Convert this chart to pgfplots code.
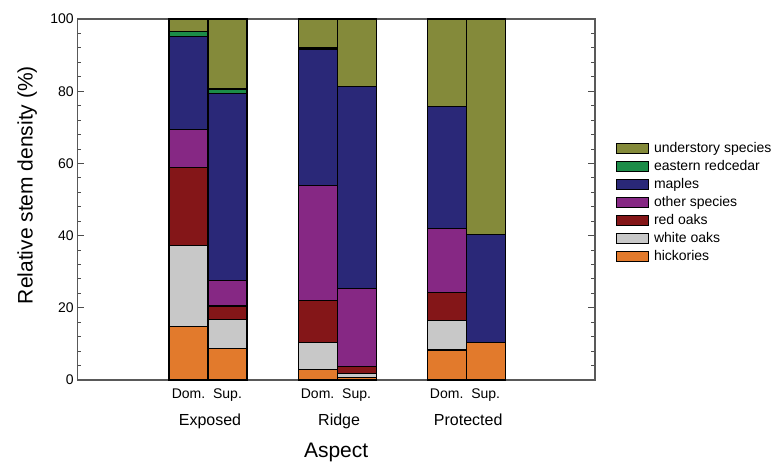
\documentclass[border=0pt]{standalone}
\usepackage{fontspec}
\setmainfont{Liberation Sans}
\usepackage{pgfplots}
\pgfplotsset{compat=1.18}
\definecolor{cUnder}{RGB}{132,138,58}
\definecolor{cCedar}{RGB}{28,140,72}
\definecolor{cMaple}{RGB}{42,40,120}
\definecolor{cOther}{RGB}{134,40,132}
\definecolor{cRed}{RGB}{132,22,24}
\definecolor{cWhite}{RGB}{200,200,200}
\definecolor{cHick}{RGB}{226,122,44}
\pgfplotsset{mylegend/.style={legend image code/.code={\draw[##1, line width=0.8pt] (0pt,-5pt) rectangle (32pt,5pt);}}}
\begin{document}
\begin{tikzpicture}
\begin{axis}[
  scale only axis, width=517.7pt, height=361pt,
  xmin=77.3, xmax=595, ymin=0, ymax=100,
  ybar stacked, bar width=39,
  axis line style={draw=black!65, line width=1.2pt},
  ytick={0,20,...,100}, minor y tick num=4,
  tick align=inside, ytick pos=both,
  major tick length=7pt, minor tick length=4pt,
  y tick style={black!70, line width=0.9pt},
  xtick={188.5,227.5,317.6,356.6,446.7,485.7},
  xticklabels={Dom.,Sup.,Dom.,Sup.,Dom.,Sup.},
  x tick style={draw=none},
  x tick label style={yshift=-5pt},
  extra x ticks={208,337.1,466.2},
  extra x tick labels={Exposed,Ridge,Protected},
  extra x tick style={tick label style={font=\fontsize{16}{19}\selectfont, yshift=-25pt, xshift=2pt}, major tick length=0pt},
  tick label style={font=\fontsize{14}{16}\selectfont},
  /pgf/number format/assume math mode=true,
  ylabel={Relative stem density (\%)},
  ylabel style={font=\fontsize{21}{24}\selectfont, at={(axis description cs:-0.097,0.54)}, anchor=center},
  xlabel={Aspect},
  xlabel style={font=\fontsize{21}{24}\selectfont, at={(axis description cs:0.5,0)}, anchor=north, yshift=-60pt},
  legend cell align=left,
  legend style={at={(axis description cs:1,0.5)}, anchor=west, xshift=18pt, yshift=-3pt, draw=none, fill=none,
    font=\fontsize{14}{16}\selectfont, row sep=3pt, column sep=4pt,
    nodes={inner sep=1pt, text height=10pt, text depth=3pt}},
  reverse legend,
  every axis plot/.append style={draw=black, line width=1.1pt},
]
\addplot[fill=cHick, mylegend] coordinates {(188.5,14.7) (227.5,8.8) (317.6,2.8) (356.6,0.8) (446.7,8.3) (485.7,10.4)};
\addplot[fill=cWhite, mylegend] coordinates {(188.5,22.5) (227.5,8.0) (317.6,7.6) (356.6,1.0) (446.7,8.1) (485.7,0)};
\addplot[fill=cRed, mylegend] coordinates {(188.5,21.7) (227.5,3.7) (317.6,11.5) (356.6,1.9) (446.7,7.8) (485.7,0)};
\addplot[fill=cOther, mylegend] coordinates {(188.5,10.6) (227.5,7.0) (317.6,32.1) (356.6,21.7) (446.7,17.8) (485.7,0)};
\addplot[fill=cMaple, mylegend] coordinates {(188.5,25.6) (227.5,51.9) (317.6,37.7) (356.6,56.0) (446.7,33.7) (485.7,30.0)};
\addplot[fill=cCedar, mylegend] coordinates {(188.5,1.4) (227.5,1.2) (317.6,0.5) (356.6,0) (446.7,0) (485.7,0)};
\addplot[fill=cUnder, mylegend] coordinates {(188.5,3.5) (227.5,19.4) (317.6,7.8) (356.6,18.6) (446.7,24.3) (485.7,59.6)};
\legend{hickories,white oaks,red oaks,other species,maples,eastern redcedar,understory species}
\coordinate (bl) at (rel axis cs:0,0);
\end{axis}
\pgfresetboundingbox
\path (bl) ++(-77.3pt,-84pt) rectangle ++(782pt,464pt);
\end{tikzpicture}
\end{document}
